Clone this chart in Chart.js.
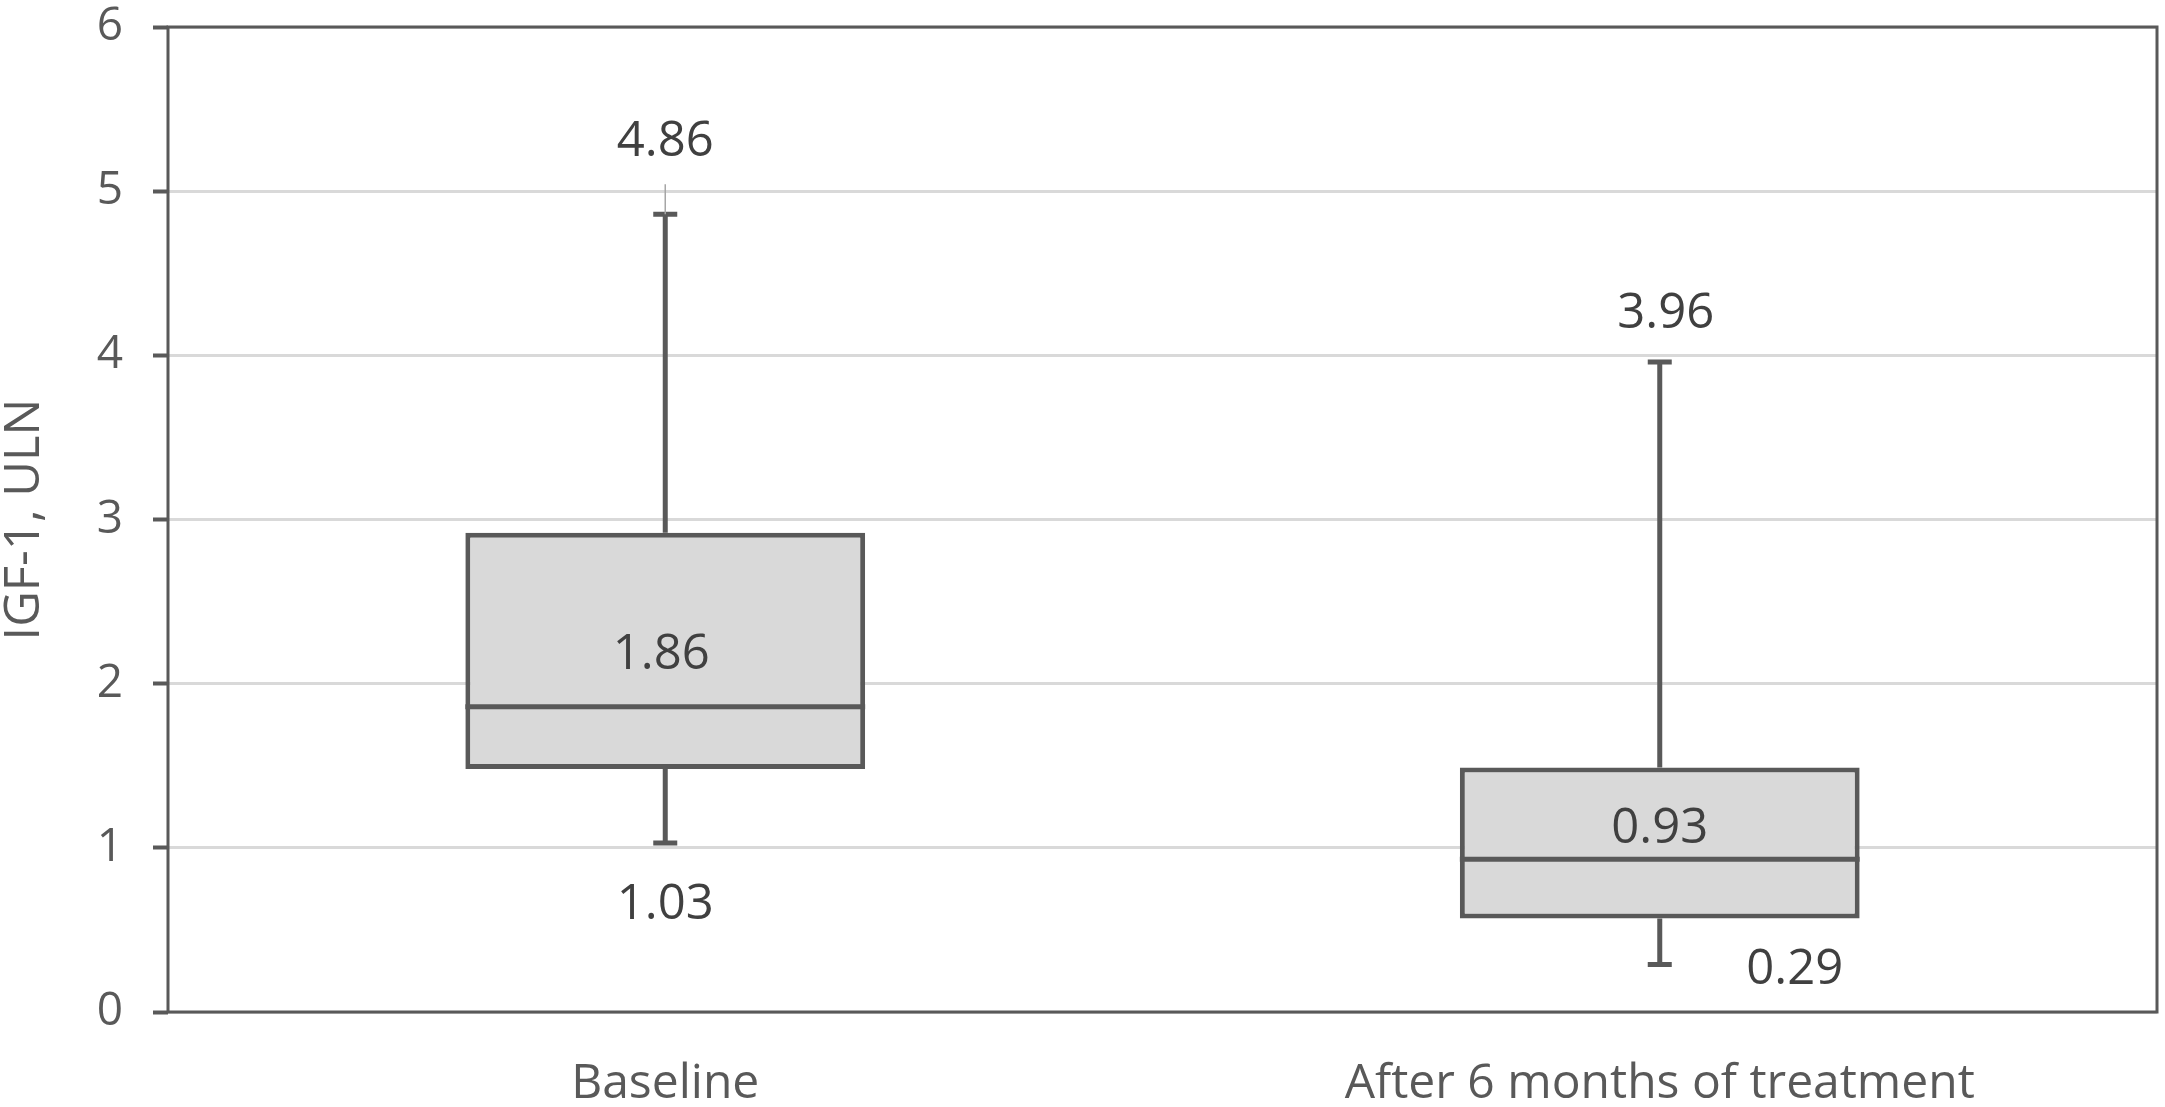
<!DOCTYPE html>
<html>
<head>
<meta charset="utf-8">
<script src="https://cdn.jsdelivr.net/npm/chart.js@4"></script>
<style>
  html, body { margin: 0; padding: 0; background: #fff; }
  #wrap { width: 2165px; height: 1107px; }
</style>
</head>
<body>
<div id="wrap"><canvas id="boxChart"></canvas></div>
<script>
// datos del diagrama de caja
const categories = ['Baseline', 'After 6 months of treatment'];
const mins = [1.03, 0.29];
const q1s = [1.48, 0.57];
const medians = [1.86, 0.93];
const q3s = [2.92, 1.49];
const maxs = [4.86, 3.96];
const yTicks = [0, 1, 2, 3, 4, 5, 6];

const dark = '#595959';
const FONT = "'Open Sans', sans-serif";

// etiquetas: valor mostrado y desplazamiento respecto al punto
const labelSpots = [
  { i: 0, key: 'max', dx: 0, dy: -72, leader: true },
  { i: 0, key: 'median', dx: -4, dy: -52 },
  { i: 0, key: 'min', dx: 0, dy: 62 },
  { i: 1, key: 'max', dx: 6, dy: -48 },
  { i: 1, key: 'median', dx: 0, dy: -30 },
  { i: 1, key: 'min', dx: 135, dy: 6 }
];
const stats = { min: mins, median: medians, max: maxs };

const boxPlugin = {
  id: 'boxExtras',
  beforeDatasetsDraw(chart) {
    const { ctx, chartArea: a } = chart;
    ctx.save();
    ctx.strokeStyle = dark;
    ctx.lineWidth = 3;
    ctx.strokeRect(a.left, a.top, a.right - a.left, a.bottom - a.top);
    ctx.restore();
  },
  afterDatasetsDraw(chart) {
    const { ctx } = chart;
    const x = chart.scales.x, y = chart.scales.y;
    const bars = chart.getDatasetMeta(0).data;
    ctx.save();
    ctx.strokeStyle = dark;
    ctx.lineCap = 'butt';
    categories.forEach((c, i) => {
      const cx = x.getPixelForValue(i);
      const half = bars[i].width / 2;
      ctx.lineWidth = 5;
      ctx.beginPath();
      ctx.moveTo(cx, y.getPixelForValue(q3s[i]));
      ctx.lineTo(cx, y.getPixelForValue(maxs[i]));
      ctx.moveTo(cx, y.getPixelForValue(q1s[i]));
      ctx.lineTo(cx, y.getPixelForValue(mins[i]));
      // tapas
      ctx.moveTo(cx - 12, y.getPixelForValue(maxs[i]));
      ctx.lineTo(cx + 12, y.getPixelForValue(maxs[i]));
      ctx.moveTo(cx - 12, y.getPixelForValue(mins[i]));
      ctx.lineTo(cx + 12, y.getPixelForValue(mins[i]));
      // mediana
      ctx.moveTo(cx - half, y.getPixelForValue(medians[i]));
      ctx.lineTo(cx + half, y.getPixelForValue(medians[i]));
      ctx.stroke();
    });

    ctx.font = '49px ' + FONT;
    ctx.fillStyle = '#404040';
    ctx.textAlign = 'center';
    ctx.textBaseline = 'middle';
    labelSpots.forEach(s => {
      const v = stats[s.key][s.i];
      const px = x.getPixelForValue(s.i);
      const py = y.getPixelForValue(v);
      if (s.leader) {
        ctx.strokeStyle = '#a6a6a6';
        ctx.lineWidth = 1.5;
        ctx.beginPath();
        ctx.moveTo(px, py);
        ctx.lineTo(px, py + s.dy + 42);
        ctx.stroke();
      }
      ctx.fillText(v.toFixed(2), px + s.dx, py + s.dy);
    });
    ctx.restore();
  }
};

const loadChart = () => {
  const ctx = document.getElementById('boxChart').getContext('2d');

  new Chart(ctx, {
    type: 'bar',
    data: {
      labels: categories,
      datasets: [{
        label: 'IQR',
        data: categories.map((c, i) => [q1s[i], q3s[i]]),
        backgroundColor: '#d9d9d9',
        borderColor: dark,
        borderWidth: 5,
        borderSkipped: false,
        barPercentage: 0.402,
        categoryPercentage: 1
      }]
    },
    options: {
      responsive: true,
      maintainAspectRatio: false,
      devicePixelRatio: 1,
      animation: false,
      layout: { padding: { left: 0, top: 0, right: 8, bottom: 0 } },
      scales: {
        x: {
          grid: { display: false, drawTicks: false },
          border: { display: false },
          ticks: { color: dark, font: { family: FONT, size: 48 }, padding: 44 },
          afterFit: (s) => { s.height = 95; }
        },
        y: {
          min: 0,
          max: 6,
          afterBuildTicks: (s) => { s.ticks = yTicks.map(v => ({ value: v })); },
          grid: { color: '#d9d9d9', lineWidth: 3, tickLength: 15, tickColor: dark, tickWidth: 4 },
          border: { display: false },
          ticks: { color: dark, font: { family: FONT, size: 46 }, padding: 30 },
          title: {
            display: true,
            text: 'IGF-1, ULN',
            color: dark,
            font: { family: FONT, size: 49, lineHeight: 1 },
            padding: { top: 1, bottom: 0 }
          },
          afterFit: (s) => {
            s.width = 168;
            s.paddingTop = 27;
            s.paddingBottom = 0;
          }
        }
      },
      plugins: {
        legend: { display: false },
        tooltip: { enabled: false },
        title: { display: false }
      }
    },
    plugins: [boxPlugin]
  });
};

document.addEventListener('DOMContentLoaded', loadChart);
</script>
</body>
</html>
